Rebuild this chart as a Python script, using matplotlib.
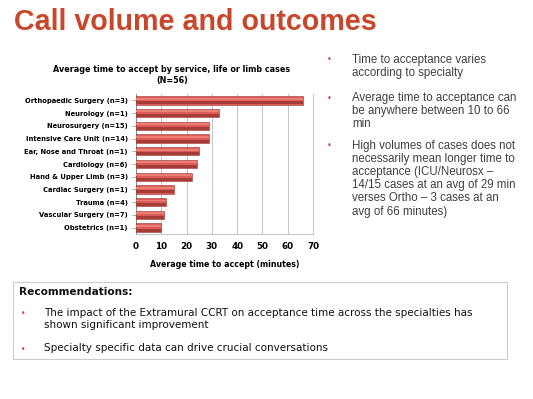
import matplotlib
matplotlib.use("Agg")
import matplotlib.pyplot as plt
from matplotlib.patches import Rectangle
import numpy as np

categories = ["Orthopaedic Surgery (n=3)", "Neurology (n=1)", "Neurosurgery (n=15)",
              "Intensive Care Unit (n=14)", "Ear, Nose and Throat (n=1)", "Cardiology (n=6)",
              "Hand & Upper Limb (n=3)", "Cardiac Surgery (n=1)", "Trauma (n=4)",
              "Vascular Surgery (n=7)", "Obstetrics (n=1)"]
values = [66, 33, 29, 29, 25, 24, 22, 15, 12, 11, 10]
xticks = [0, 10, 20, 30, 40, 50, 60, 70]

slide_title = "Call volume and outcomes"
chart_title = "Average time to accept by service, life or limb cases\n(N=56)"
x_label = "Average time to accept (minutes)"
right_bullets = [
    "Time to acceptance varies\naccording to specialty",
    "Average time to acceptance can\nbe anywhere between 10 to 66\nmin",
    "High volumes of cases does not\nnecessarily mean longer time to\nacceptance (ICU/Neurosx \u2013\n14/15 cases at an avg of 29 min\nverses Ortho \u2013 3 cases at an\navg of 66 minutes)",
]
rec_title = "Recommendations:"
rec_bullets = [
    "The impact of the Extramural CCRT on acceptance time across the specialties has\nshown significant improvement",
    "Specialty specific data can drive crucial conversations",
]

W, H = 533, 399
fig = plt.figure(figsize=(W / 100, H / 100), dpi=100)
fig.patch.set_facecolor("white")

def fx(px):
    return px / W

def fy(py):
    return 1 - py / H

# slide title
fig.text(fx(14), fy(22), slide_title, fontsize=20.6, fontweight="bold",
         color="#C8472B", family="Liberation Sans", va="center", ha="left")

# chart
ax = fig.add_axes([fx(136), fy(234), fx(313) - fx(136), fy(94) - fy(234)])
y = np.arange(len(categories))
bh = 0.66
ax.barh(y, values, height=bh, color="#DE5C57", edgecolor="#9A3431", linewidth=0.4, zorder=3)
ax.barh(y + bh * 0.3, values, height=bh * 0.36, color="#A63C38", linewidth=0, zorder=4)
ax.barh(y - bh * 0.2, values, height=bh * 0.22, color="#EC7E78", linewidth=0, zorder=4)
ax.set_ylim(len(categories) - 0.5, -0.5)
ax.set_xlim(0, 70)
ax.set_xticks(xticks)
ax.set_xticklabels([str(t) for t in xticks], fontsize=6.3, fontweight="bold", family="DejaVu Sans")
ax.set_yticks(y)
ax.set_yticklabels(categories, fontsize=4.9, fontweight="bold", family="DejaVu Sans")
ax.tick_params(axis="x", length=0, pad=6)
ax.tick_params(axis="y", length=3, color="#999999", width=0.6, pad=3)
ax.grid(axis="x", color="#BBBBBB", linewidth=0.6, zorder=0)
ax.spines["top"].set_visible(False)
ax.spines["right"].set_color("#BBBBBB")
ax.spines["right"].set_linewidth(0.6)
ax.spines["left"].set_color("#888888")
ax.spines["left"].set_linewidth(0.7)
ax.spines["bottom"].set_color("#BBBBBB")
ax.spines["bottom"].set_linewidth(0.6)
ax.set_xlabel(x_label, fontsize=5.7, fontweight="bold", family="DejaVu Sans", labelpad=6)

fig.text(fx(172), fy(75), chart_title, fontsize=5.8, fontweight="bold", family="DejaVu Sans",
         ha="center", va="center", linespacing=1.25)

# right bullets
bullet_y = [60, 98.3, 146]
for b, yy in zip(right_bullets, bullet_y):
    fig.text(fx(327), fy(yy), "\u2022", fontsize=6, color="#C8472B", va="center", ha="left")
    fig.text(fx(352), fy(yy - 6.2), b, fontsize=8.3, color="#404040", family="Liberation Sans",
             va="top", ha="left", linespacing=1.13)

# recommendations box
fig.patches.append(Rectangle((fx(13), fy(359)), fx(507) - fx(13), fy(282) - fy(359),
                             transform=fig.transFigure, facecolor="white",
                             edgecolor="#CCCCCC", linewidth=0.8))
fig.text(fx(19), fy(292), rec_title, fontsize=7.6, fontweight="bold", family="DejaVu Sans",
         va="center", ha="left", color="#111111")
rpos = [314, 349]
for b, yy in zip(rec_bullets, rpos):
    fig.text(fx(21), fy(yy), "\u2022", fontsize=5.5, color="#C8472B", va="center", ha="left")
    fig.text(fx(44), fy(yy - 6), b, fontsize=7.45, family="DejaVu Sans", color="#111111",
             va="top", ha="left", linespacing=1.2)

fig.savefig("out.png", dpi=100)
